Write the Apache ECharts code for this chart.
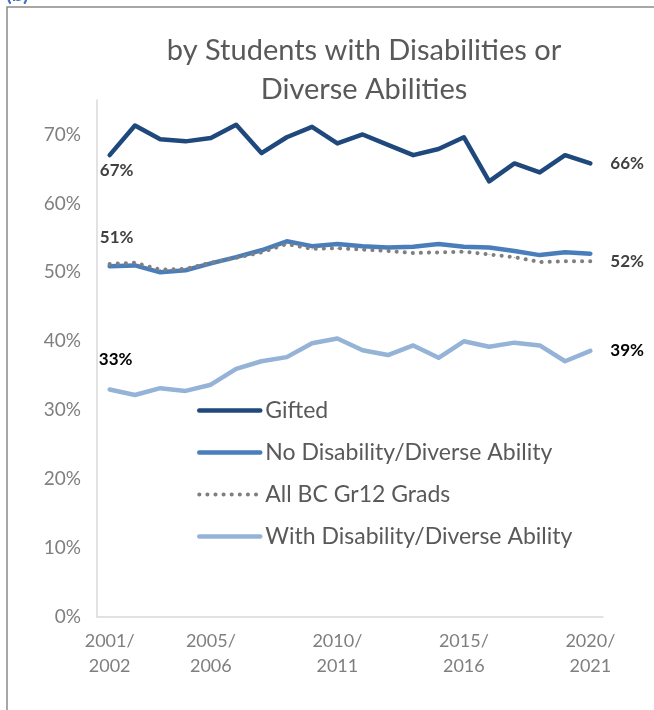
<!DOCTYPE html>
<html>
<head>
<meta charset="utf-8">
<script src="https://cdn.jsdelivr.net/npm/echarts@6/dist/echarts.min.js"></script>
<style>
  html, body { margin: 0; padding: 0; background: #fff; }
  #chart { width: 654px; height: 710px; }
</style>
</head>
<body>
<div id="chart"></div>
<script>
const years = ['2001/2002', '2002/2003', '2003/2004', '2004/2005', '2005/2006', '2006/2007',
  '2007/2008', '2008/2009', '2009/2010', '2010/2011', '2011/2012', '2012/2013', '2013/2014',
  '2014/2015', '2015/2016', '2016/2017', '2017/2018', '2018/2019', '2019/2020', '2020/2021']
const labelIdx = [0, 4, 9, 14, 19]

const gifted = [0.670, 0.713, 0.693, 0.690, 0.695, 0.714, 0.673, 0.696, 0.711, 0.687,
  0.700, 0.685, 0.670, 0.679, 0.696, 0.632, 0.658, 0.645, 0.670, 0.658]
const noDisability = [0.509, 0.510, 0.500, 0.503, 0.513, 0.522, 0.532, 0.545, 0.538, 0.541,
  0.538, 0.536, 0.537, 0.541, 0.537, 0.536, 0.531, 0.525, 0.529, 0.527]
const allGrads = [0.512, 0.514, 0.504, 0.505, 0.514, 0.521, 0.529, 0.541, 0.534, 0.535,
  0.533, 0.531, 0.528, 0.529, 0.530, 0.526, 0.522, 0.515, 0.516, 0.516]
const withDisability = [0.330, 0.322, 0.332, 0.328, 0.337, 0.360, 0.371, 0.377, 0.397, 0.404,
  0.387, 0.380, 0.394, 0.376, 0.400, 0.392, 0.398, 0.394, 0.371, 0.386]

const pct = v => Math.round(v * 100) + '%'

// label only on the first point, end label handles the last one
const withStartLabel = (arr, label) => arr.map((v, i) => i === 0 ? { value: v, label: { show: true, ...label } } : v)

const chart = echarts.init(document.getElementById('chart'))

const lineSeries = (name, data, color, width, type, textColor, startLabel) => ({
  name,
  type: 'line',
  data: startLabel ? withStartLabel(data, startLabel) : data,
  symbol: 'circle',
  symbolSize: 1,
  showSymbol: true,
  itemStyle: { color },
  lineStyle: { color, width, type, cap: 'round', join: 'round' },
  label: {
    show: false,
    formatter: p => pct(p.value),
    fontFamily: 'Lato',
    fontWeight: 'bold',
    fontSize: 17,
    color: textColor
  },
  endLabel: startLabel ? {
    show: true,
    formatter: p => pct(p.value),
    distance: 20,
    fontFamily: 'Lato',
    fontWeight: 'bold',
    fontSize: 17,
    color: textColor
  } : { show: false },
  emphasis: { disabled: true },
  animation: false
})

const option = {
  animation: false,
  title: {
    text: 'by Students with Disabilities or\nDiverse Abilities',
    left: 359,
    textAlign: 'center',
    top: 26,
    textStyle: { fontFamily: 'Lato', fontWeight: 'normal', fontSize: 29, color: '#595959', lineHeight: 39 }
  },
  legend: {
    orient: 'vertical',
    left: 192,
    top: 394,
    itemWidth: 61,
    itemHeight: 16,
    itemGap: 19,
    itemStyle: { opacity: 0 },
    lineStyle: { width: 'inherit', type: 'inherit', cap: 'round' },
    textStyle: { fontFamily: 'Lato', fontSize: 23, color: '#595959' },
    data: ['Gifted', 'No Disability/Diverse Ability', 'All BC Gr12 Grads', 'With Disability/Diverse Ability']
  },
  grid: { left: 97, right: 51, top: 100, bottom: 93 },
  xAxis: {
    type: 'category',
    data: years,
    boundaryGap: true,
    axisLine: { show: true, lineStyle: { color: '#d9d9d9', width: 1.5 } },
    axisTick: { show: false },
    axisLabel: {
      interval: i => labelIdx.includes(i),
      formatter: v => v.replace('/', '/\n'),
      fontFamily: 'Lato',
      fontSize: 18,
      lineHeight: 25,
      color: '#7f7f7f',
      margin: 12
    }
  },
  yAxis: {
    type: 'value',
    min: 0,
    max: 0.75,
    interval: 0.1,
    axisLine: { show: true, lineStyle: { color: '#d9d9d9', width: 1.5 } },
    splitLine: { show: false },
    axisTick: { show: false },
    axisLabel: {
      showMaxLabel: false,
      formatter: v => pct(v),
      fontFamily: 'Lato',
      fontSize: 19,
      color: '#7f7f7f',
      margin: 16
    }
  },
  graphic: [
    {
      type: 'rect',
      shape: { x: 7, y: 7, width: 720, height: 760 },
      style: { fill: 'none', stroke: '#8a8a8a', lineWidth: 1.5 },
      silent: true
    },
    {
      type: 'text',
      left: 6,
      top: -16,
      style: { text: '(b)', fontFamily: 'Lato', fontWeight: 'bold', fontSize: 21, fill: '#4472c4' },
      silent: true
    }
  ],
  series: [
    lineSeries('Gifted', gifted, '#1f497d', 4.5, 'solid', '#404040',
      { position: 'bottom', distance: 6, offset: [7, 0] }),
    lineSeries('No Disability/Diverse Ability', noDisability, '#4a7ebb', 4.5, 'solid', '#404040', null),
    lineSeries('All BC Gr12 Grads', allGrads, '#7f7f7f', 4, [0.1, 8], '#404040',
      { position: 'top', distance: 18, offset: [7, 0] }),
    lineSeries('With Disability/Diverse Ability', withDisability, '#95b3d7', 4.5, 'solid', '#000000',
      { position: 'top', distance: 21, offset: [6, 0] })
  ]
}

chart.setOption(option)
</script>
</body>
</html>
